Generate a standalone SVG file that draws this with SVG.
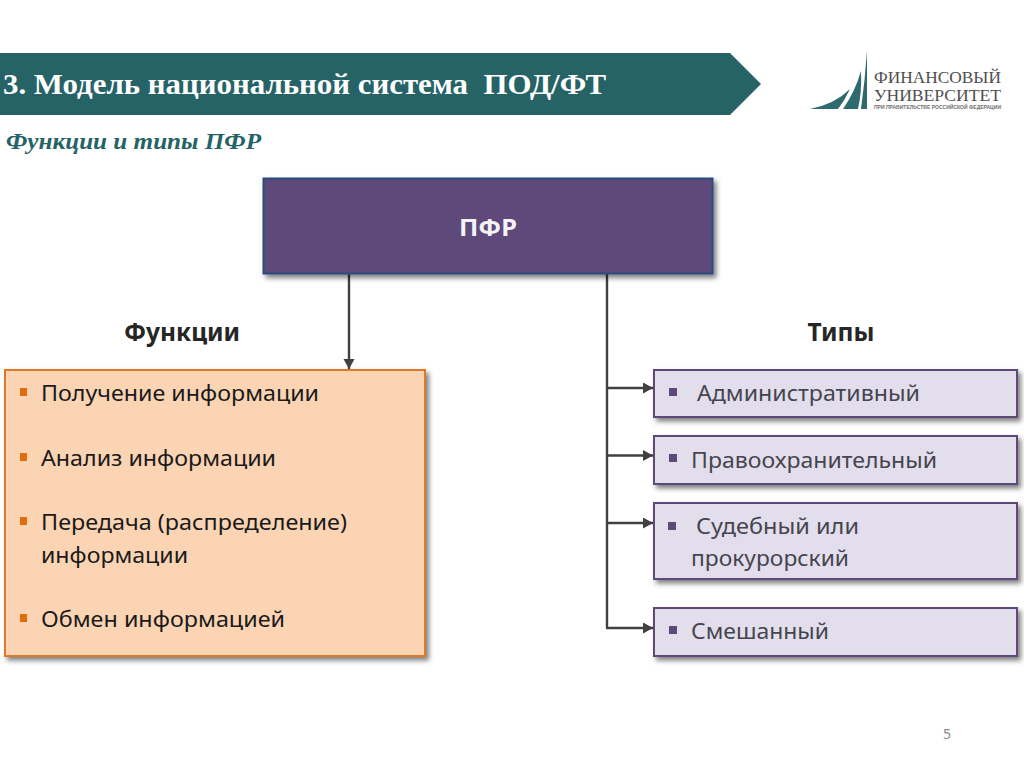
<svg xmlns="http://www.w3.org/2000/svg" width="1024" height="767" viewBox="0 0 1024 767">
<defs>
<style>
.b{font-family:"Noto Sans","Open Sans",sans-serif;font-size:22.500px}
.blk{fill:#1a1a1a}
.gr{fill:#45454f}
.h{font-family:"Noto Sans","Open Sans",sans-serif;font-size:24.500px;font-weight:bold;fill:#262626;text-anchor:middle}
.c{fill:none;stroke:#404040;stroke-width:2.400}
.ty{fill:#e3deeb;stroke:#5f497a;stroke-width:2;filter:url(#s)}
.bp{fill:#5f497a}
.bo{fill:#e36c0a}
.lg{font-family:"Liberation Serif",serif;fill:#4f4f4f;font-size:16px}
.sail{fill:#2f6a70}
</style>
<filter id="s" x="-5%" y="-15%" width="110%" height="140%"><feDropShadow dx="3" dy="3.500" stdDeviation="2.500" flood-color="#000" flood-opacity=".5"/></filter>
<marker id="a" markerUnits="userSpaceOnUse" markerWidth="12" markerHeight="12" refX="10" refY="5.500" orient="auto"><path d="M0 0L10 5.500L0 11Z" fill="#404040"/></marker>
</defs>
<rect width="1024" height="767" fill="#fff"/>
<g id="title-bar">
<path d="M0 53H730L761 84L730 115H0Z" fill="#266367"/>
<text x="3" y="94" font-family="Liberation Serif,serif" font-size="28.500" font-weight="bold" fill="#fff" xml:space="preserve" textLength="603" lengthAdjust="spacingAndGlyphs">3. Модель национальной система  ПОД/ФТ</text>
</g>
<text id="subtitle" x="6" y="149" font-family="Liberation Serif,serif" font-size="24" font-weight="bold" font-style="italic" fill="#266367" textLength="255" lengthAdjust="spacingAndGlyphs">Функции и типы ПФР</text>
<g id="logo">
<path class="sail" d="M810 109Q835 104 850 89Q845 100 838 109Z"/>
<path class="sail" d="M843 109Q855 92 861 71Q862 92 858 109Z"/>
<path class="sail" d="M861 109Q865 80 867 51L867 109Z"/>
<text class="lg" x="874" y="83" textLength="127" lengthAdjust="spacingAndGlyphs">ФИНАНСОВЫЙ</text>
<text class="lg" x="874" y="100.500" textLength="127" lengthAdjust="spacingAndGlyphs">УНИВЕРСИТЕТ</text>
<text x="874" y="109" font-family="Liberation Sans,sans-serif" font-size="5" font-weight="bold" fill="#707070" textLength="127" lengthAdjust="spacingAndGlyphs">ПРИ ПРАВИТЕЛЬСТВЕ РОССИЙСКОЙ ФЕДЕРАЦИИ</text>
</g>
<g id="connectors">
<path class="c" d="M349 274V369" marker-end="url(#a)"/>
<path class="c" d="M607 274V628"/>
<path class="c" d="M606 388H653" marker-end="url(#a)"/>
<path class="c" d="M606 455.500H653" marker-end="url(#a)"/>
<path class="c" d="M606 523H653" marker-end="url(#a)"/>
<path class="c" d="M606 628H653" marker-end="url(#a)"/>
</g>
<g id="pfr">
<rect x="263.500" y="178.500" width="449" height="95" fill="#5f497a" stroke="#2c4a7e" stroke-width="2" filter="url(#s)"/>
<text x="488" y="236" font-family="Noto Sans,sans-serif" font-size="24" font-weight="bold" fill="#f4f2f7" text-anchor="middle" textLength="58" lengthAdjust="spacingAndGlyphs">ПФР</text>
</g>
<text id="label-functions" class="h" x="182" y="341">Функции</text>
<text id="label-types" class="h" x="841" y="341">Типы</text>
<g id="functions">
<rect x="5" y="370" width="420" height="286" fill="#fbd4b4" stroke="#e0782a" stroke-width="2" filter="url(#s)"/>
<rect class="bo" x="20" y="388" width="7" height="8"/>
<rect class="bo" x="20" y="453" width="7" height="8"/>
<rect class="bo" x="20" y="517" width="7" height="8"/>
<rect class="bo" x="20" y="614" width="7" height="8"/>
<text class="b blk" x="41" y="401" textLength="278" lengthAdjust="spacingAndGlyphs">Получение информации</text>
<text class="b blk" x="41" y="466" textLength="235" lengthAdjust="spacingAndGlyphs">Анализ информации</text>
<text class="b blk" x="41" y="530" textLength="306" lengthAdjust="spacingAndGlyphs">Передача (распределение)</text>
<text class="b blk" x="41" y="563" textLength="147" lengthAdjust="spacingAndGlyphs">информации</text>
<text class="b blk" x="41" y="627" textLength="244" lengthAdjust="spacingAndGlyphs">Обмен информацией</text>
</g>
<g id="type-admin">
<rect class="ty" x="654" y="370" width="363" height="47"/>
<rect class="bp" x="669" y="388" width="8" height="8"/>
<text class="b gr" x="697" y="401" textLength="223" lengthAdjust="spacingAndGlyphs">Административный</text>
</g>
<g id="type-law">
<rect class="ty" x="654" y="436" width="363" height="48"/>
<rect class="bp" x="669" y="454" width="8" height="8"/>
<text class="b gr" x="691" y="468" textLength="246" lengthAdjust="spacingAndGlyphs">Правоохранительный</text>
</g>
<g id="type-court">
<rect class="ty" x="654" y="503" width="363" height="76"/>
<rect class="bp" x="668" y="522" width="8" height="8"/>
<text class="b gr" x="696" y="534" textLength="163" lengthAdjust="spacingAndGlyphs">Судебный или</text>
<text class="b gr" x="691" y="566" textLength="158" lengthAdjust="spacingAndGlyphs">прокурорский</text>
</g>
<g id="type-mixed">
<rect class="ty" x="654" y="608" width="363" height="48"/>
<rect class="bp" x="669" y="626" width="8" height="8"/>
<text class="b gr" x="691" y="639" textLength="138" lengthAdjust="spacingAndGlyphs">Смешанный</text>
</g>
<text id="page" x="947" y="739" font-family="Noto Sans,sans-serif" font-size="14" fill="#8a8a8a" text-anchor="middle">5</text>
</svg>
